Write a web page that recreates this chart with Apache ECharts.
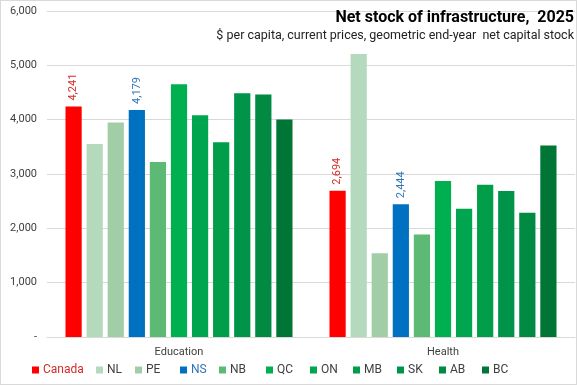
<!DOCTYPE html>
<html><head><meta charset="utf-8">
<script src="https://cdn.jsdelivr.net/npm/echarts@6/dist/echarts.min.js"></script>
<style>html,body{margin:0;padding:0;background:#fff}#c{width:577px;height:385px;box-sizing:border-box;border:1px solid #d9d9d9}</style>
</head><body><div id="c"></div>
<script>
const categories = ['Education', 'Health'];
const seriesNames = ['Canada','NL','PE','NS','NB','QC','ON','MB','SK','AB','BC'];
const Canada = [4241, 2694];
const NL = [3550, 5210];
const PE = [3950, 1540];
const NS = [4179, 2444];
const NB = [3220, 1885];
const QC = [4650, 2870];
const ON = [4080, 2360];
const MB = [3585, 2800];
const SK = [4485, 2685];
const AB = [4465, 2285];
const BC = [4005, 3525];
const values = {Canada, NL, PE, NS, NB, QC, ON, MB, SK, AB, BC};
const yTicks = [0, 1000, 2000, 3000, 4000, 5000, 6000];

const colors = {Canada:'#FF0000', NL:'#B5D9BC', PE:'#A1CEA7', NS:'#0070C0', NB:'#5DBA74', QC:'#00B050', ON:'#00A64F', MB:'#009E49', SK:'#00944A', AB:'#008A42', BC:'#007636'};
const labelColors = {Canada:'#D42A2A', NS:'#2E75B6'};
const legendLeft = [26, 90, 129, 174, 213, 260, 304, 347, 391, 433, 476];
const font = "'Roboto', 'Liberation Sans', sans-serif";

const chart = echarts.init(document.getElementById('c'), null, {renderer:'canvas'});
const fmt = v => v === 0 ? '-' : v.toLocaleString('en-US');

chart.setOption({
  animation: false,
  title: [{
    text: 'Net stock of infrastructure,  2025',
    right: 2, top: 9, padding: 0,
    textStyle: {fontFamily: font, fontSize: 16, fontWeight: 'bold', color: '#000'}
  }, {
    text: '$ per capita, current prices, geometric end-year  net capital stock',
    right: 2, top: 28, padding: 0,
    textStyle: {fontFamily: font, fontSize: 12.5, fontWeight: 'normal', color: '#222'}
  }],
  grid: {left: 46, right: 1, top: 10, bottom: 47},
  legend: seriesNames.map((n, i) => ({
    data: [n], left: legendLeft[i], top: 358, itemWidth: 7, itemHeight: 7, itemGap: 0,
    icon: 'rect', selectedMode: false,
    textStyle: {fontFamily: font, fontSize: 12, color: labelColors[n] || '#404040', padding: [0,0,0,-1]}
  })),
  xAxis: {
    type: 'category', data: categories,
    axisTick: {show: false},
    axisLine: {lineStyle: {color: '#D9D9D9'}},
    axisLabel: {fontFamily: font, fontSize: 11, color: '#404040', margin: 10}
  },
  yAxis: {
    type: 'value', min: 0, max: 6000, interval: 1000,
    axisLabel: {fontFamily: font, fontSize: 11, color: '#404040', margin: 10, formatter: fmt},
    splitLine: {lineStyle: {color: '#D9D9D9'}},
    axisLine: {show: false}, axisTick: {show: false}
  },
  series: seriesNames.map(n => ({
    name: n, type: 'bar', data: values[n],
    barGap: '30%', barCategoryGap: '14%',
    itemStyle: {color: colors[n]},
    label: labelColors[n] ? {
      show: true, position: 'top', rotate: 90, align: 'left', verticalAlign: 'middle', distance: 6,
      fontFamily: font, fontSize: 11, color: labelColors[n],
      formatter: p => p.value.toLocaleString('en-US')
    } : {show: false}
  }))
});
</script></body></html>
